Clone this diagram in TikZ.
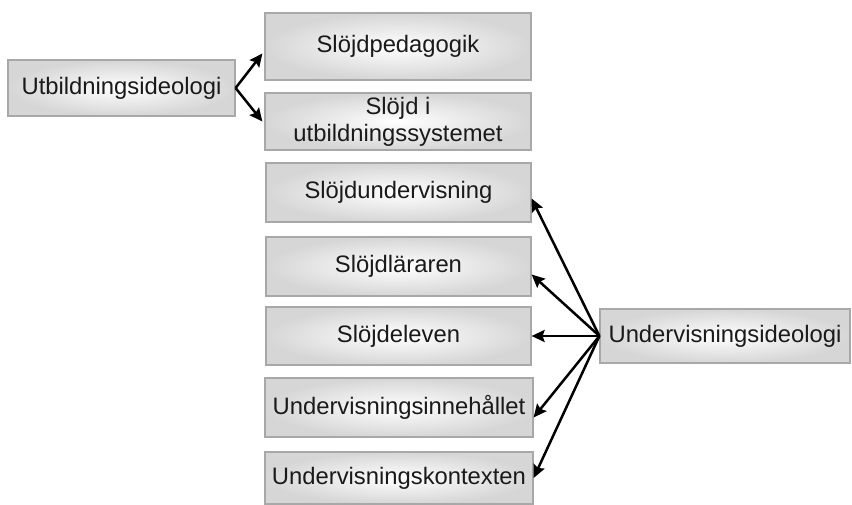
\documentclass[tikz,border=0pt]{standalone}
\usepackage{fontspec}
\setmainfont{Liberation Sans}
\usetikzlibrary{arrows.meta}
\definecolor{boxedge}{HTML}{A8A8A8}
\definecolor{boxout}{HTML}{D6D6D6}
\definecolor{ink}{HTML}{1A1A1A}
\tikzset{
  box/.style={draw=boxedge, line width=1.2pt, inner sep=0pt, align=center,
    shading=radial, inner color=white, outer color=boxout,
    text=ink, font=\fontsize{23.8}{27}\selectfont},
  link/.style={line width=2.5pt, -{Stealth[length=13pt,width=12pt,inset=2pt]}, black}
}
\begin{document}
\begin{tikzpicture}[x=1pt,y=-1pt]
\useasboundingbox (0,0) rectangle (852,505);
% left group
\node[box, minimum width=227pt, minimum height=56pt] (ut) at (121.5,88) {Utbildningsideologi};
\node[box, minimum width=266pt, minimum height=67pt] (sp) at (398,46.5) {Slöjdpedagogik};
\node[box, minimum width=266pt, minimum height=57pt] (su) at (398,121.5) {Slöjd i\\utbildningssystemet};
% right group
\node[box, minimum width=265pt, minimum height=59pt] (sdu) at (398.5,192.5) {Slöjdundervisning};
\node[box, minimum width=265pt, minimum height=59pt] (sl) at (398.5,266.5) {Slöjdläraren};
\node[box, minimum width=265pt, minimum height=58pt] (se) at (398.5,336) {Slöjdeleven};
\node[box, minimum width=268pt, minimum height=59pt] (ui) at (399,407.5) {Undervisningsinnehållet};
\node[box, minimum width=268pt, minimum height=52pt] (uk) at (399,478) {Undervisningskontexten};
\node[box, minimum width=250pt, minimum height=54pt] (uid) at (725,336) {Undervisningsideologi};
% connectors
\draw[link] (ut.east) -- ([xshift=-2pt,yshift=-7pt]sp.west);
\draw[link] (ut.east) -- ([xshift=-2pt]su.west);
\draw[link] (uid.west) -- ([yshift=-6pt]sdu.east);
\draw[link] (uid.west) -- ([yshift=-8pt]sl.east);
\draw[link] (uid.west) -- (se.east);
\draw[link] (uid.west) -- ([yshift=-10pt]ui.east);
\draw[link] (uid.west) -- (uk.east);
\end{tikzpicture}
\end{document}
